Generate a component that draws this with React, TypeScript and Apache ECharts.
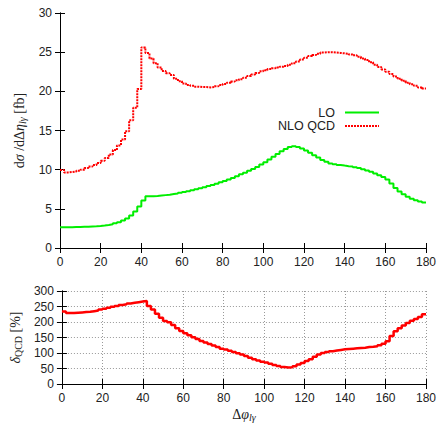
import React, { useEffect, useRef } from "react";
import * as echarts from "echarts";

// left edges of the 2-degree bins
const binLeft = [
  0, 2, 4, 6, 8, 10, 12, 14, 16, 18, 20, 22, 24, 26, 28, 30, 32, 34, 36, 38,
  40, 42, 44, 46, 48, 50, 52, 54, 56, 58, 60, 62, 64, 66, 68, 70, 72, 74, 76, 78,
  80, 82, 84, 86, 88, 90, 92, 94, 96, 98, 100, 102, 104, 106, 108, 110, 112, 114, 116, 118,
  120, 122, 124, 126, 128, 130, 132, 134, 136, 138, 140, 142, 144, 146, 148, 150, 152, 154, 156, 158,
  160, 162, 164, 166, 168, 170, 172, 174, 176, 178,
];
const xEnd = 180;

const loValues = [
  2.65, 2.65, 2.66, 2.67, 2.68, 2.7, 2.72, 2.75, 2.78, 2.82,
  2.88, 2.95, 3.03, 3.15, 3.3, 3.5, 3.78, 4.15, 4.65, 5.3,
  6.05, 6.6, 6.62, 6.65, 6.7, 6.75, 6.8, 6.88, 6.95, 7.05,
  7.15, 7.25, 7.37, 7.5, 7.62, 7.75, 7.9, 8.05, 8.2, 8.38,
  8.55, 8.75, 8.95, 9.15, 9.4, 9.62, 9.85, 10.1, 10.35, 10.65,
  10.95, 11.3, 11.65, 12.0, 12.35, 12.65, 12.9, 13.0, 12.9, 12.7,
  12.45, 12.15, 11.85, 11.55, 11.25, 11.0, 10.8, 10.7, 10.6, 10.52,
  10.45, 10.4, 10.3, 10.2, 10.05, 9.9, 9.72, 9.5, 9.3, 9.05,
  8.75, 8.25, 7.65, 7.2, 6.85, 6.55, 6.3, 6.1, 5.93, 5.8,
];

const nloValues = [
  9.95, 9.65, 9.7, 9.75, 9.85, 10.0, 10.2, 10.4, 10.6, 10.85,
  11.15, 11.5, 11.95, 12.5, 13.1, 13.85, 14.9, 16.3, 17.9, 20.3,
  25.6, 24.9, 24.2, 23.6, 23.05, 22.6, 22.3, 22.1, 21.6, 21.3,
  21.0, 20.8, 20.7, 20.6, 20.55, 20.55, 20.5, 20.55, 20.65, 20.8,
  20.95, 21.1, 21.25, 21.4, 21.55, 21.75, 21.95, 22.15, 22.35, 22.55,
  22.7, 22.85, 22.95, 23.05, 23.15, 23.25, 23.4, 23.6, 23.8, 24.05,
  24.3, 24.5, 24.65, 24.8, 24.95, 25.0, 25.0, 24.95, 24.9, 24.85,
  24.8, 24.7, 24.6, 24.4, 24.2, 24.0, 23.7, 23.4, 23.1, 22.8,
  22.5, 22.2, 21.9, 21.6, 21.35, 21.1, 20.9, 20.7, 20.5, 20.35,
];

const deltaValues = [
  234, 229, 229, 230, 231, 232, 233, 235, 237, 240,
  243, 246, 249, 252, 255, 257, 260, 262, 264, 266,
  268, 252, 240, 227, 214, 203, 199, 190, 180, 171,
  164, 157, 151, 145, 139, 134, 129, 124, 119, 114,
  111, 107, 103, 99, 95, 90, 85, 80, 76, 72,
  69, 65, 61, 58, 55, 53, 54, 57, 63, 68,
  74, 80, 88, 95, 100, 103, 106, 108, 110, 112,
  113, 114, 115, 116, 117, 119, 120, 122, 125, 130,
  138, 155, 170, 180, 189, 197, 204, 210, 216, 225,
];

const seriesNames = ["LO", "NLO QCD"];

const LO_COLOR = "#00ee00";
const NLO_COLOR = "#ff0000";

function histo(vals: number[]) {
  const d = binLeft.map((x, i) => [x, vals[i]]);
  d.push([xEnd, vals[vals.length - 1]]);
  return d;
}

export default function App() {
  const ref = useRef<HTMLDivElement>(null);
  useEffect(() => {
    if (!ref.current) return;
    const chart = echarts.init(ref.current, undefined, { renderer: "svg" });
    const labelFont = "Liberation Sans";
    const txt = "#222";
    const axisLine = { show: true, lineStyle: { color: "#000", width: 1 } };
    const tick = { show: true, inside: true, length: 5, lineStyle: { color: "#000", width: 1 } };
    const mathRich = {
      n: { fontFamily: "Liberation Serif", fontSize: 14, color: txt, lineHeight: 16 },
      i: { fontFamily: "Liberation Serif", fontSize: 14, fontStyle: "italic", color: txt, lineHeight: 16 },
      s: { fontFamily: "Liberation Serif", fontSize: 10, fontStyle: "italic", color: txt, lineHeight: 10, verticalAlign: "bottom" },
      sn: { fontFamily: "Liberation Serif", fontSize: 10, color: txt, lineHeight: 10, verticalAlign: "bottom" },
    };
    const xBase = (grid: number) => ({
      type: "value",
      gridIndex: grid,
      min: 0,
      max: 180,
      interval: 20,
      axisLine,
      axisTick: tick,
    });
    const split = { show: true, lineStyle: { color: "#999", type: [1, 2], width: 1 } };
    const legendRows = [
      { name: seriesNames[0], y: 112.5, color: LO_COLOR, dash: null as number[] | null },
      { name: seriesNames[1], y: 126, color: NLO_COLOR, dash: [2, 1] },
    ];
    const legendGraphics: any[] = [];
    legendRows.forEach((r) => {
      legendGraphics.push({
        type: "text",
        x: 335,
        y: r.y,
        style: {
          text: r.name,
          fontFamily: labelFont,
          fontSize: 12.5,
          lineHeight: 12,
          fill: txt,
          align: "right",
          verticalAlign: "middle",
        },
      });
      legendGraphics.push({
        type: "line",
        shape: { x1: 345, y1: r.y, x2: 379, y2: r.y },
        style: { stroke: r.color, lineWidth: 2, lineDash: r.dash || undefined },
      });
    });
    chart.setOption({
      animation: false,
      backgroundColor: "#fff",
      grid: [
        { left: 60, right: 10, top: 13, height: 235 },
        { left: 60, right: 10, top: 291, height: 93 },
      ],
      graphic: legendGraphics,
      xAxis: [
        { ...xBase(0), position: "bottom", axisLabel: { fontFamily: labelFont, fontSize: 12, color: txt, margin: 8 }, splitLine: { show: false } },
        { ...xBase(0), position: "top", axisLabel: { show: false }, splitLine: { show: false } },
        {
          ...xBase(1),
          position: "bottom",
          axisLabel: { fontFamily: labelFont, fontSize: 12, color: txt, margin: 8 },
          splitLine: split,
          name: "{n|Δ}{i|φ}{s|lγ}",
          nameLocation: "middle",
          nameGap: 22,
          nameTextStyle: { rich: mathRich },
        },
        { ...xBase(1), position: "top", axisLabel: { show: false }, splitLine: { show: false } },
      ],
      yAxis: [
        {
          type: "value",
          gridIndex: 0,
          min: 0,
          max: 30,
          interval: 5,
          position: "left",
          axisLine,
          axisTick: tick,
          axisLabel: { fontFamily: labelFont, fontSize: 12, color: txt, margin: 8 },
          splitLine: { show: false },
          name: "{n|d}{i|σ}{n| /d}{n|Δ}{i|η}{s|lγ}{n| [fb]}",
          nameLocation: "middle",
          nameRotate: 90,
          nameGap: 30,
          nameTextStyle: { rich: mathRich },
        },
        {
          type: "value",
          gridIndex: 0,
          min: 0,
          max: 30,
          interval: 5,
          position: "right",
          axisLine,
          axisTick: tick,
          axisLabel: { show: false },
          splitLine: { show: false },
        },
        {
          type: "value",
          gridIndex: 1,
          min: 0,
          max: 300,
          interval: 50,
          position: "left",
          axisLine,
          axisTick: tick,
          axisLabel: { fontFamily: labelFont, fontSize: 12, color: txt, margin: 8 },
          splitLine: split,
          name: "{i|δ}{sn|QCD}{n| [%]}",
          nameLocation: "middle",
          nameRotate: 90,
          nameGap: 38,
          nameTextStyle: { rich: mathRich },
        },
        {
          type: "value",
          gridIndex: 1,
          min: 0,
          max: 300,
          interval: 50,
          position: "right",
          axisLine,
          axisTick: tick,
          axisLabel: { show: false },
          splitLine: { show: false },
        },
      ],
      series: [
        {
          name: seriesNames[0],
          type: "line",
          xAxisIndex: 0,
          yAxisIndex: 0,
          step: "end",
          symbol: "none",
          data: histo(loValues),
          lineStyle: { color: LO_COLOR, width: 2 },
          itemStyle: { color: LO_COLOR },
        },
        {
          name: seriesNames[1],
          type: "line",
          xAxisIndex: 0,
          yAxisIndex: 0,
          step: "end",
          symbol: "none",
          data: histo(nloValues),
          lineStyle: { color: NLO_COLOR, width: 2, type: [2, 1] },
          itemStyle: { color: NLO_COLOR },
        },
        {
          name: "delta",
          type: "line",
          xAxisIndex: 2,
          yAxisIndex: 2,
          step: "end",
          symbol: "none",
          data: histo(deltaValues),
          lineStyle: { color: NLO_COLOR, width: 2.5 },
          itemStyle: { color: NLO_COLOR },
        },
      ],
    });
    return () => chart.dispose();
  }, []);
  return (
    <div
      ref={ref}
      style={{ position: "absolute", left: 0, top: 0, width: 439, height: 424, background: "#fff" }}
    />
  );
}
